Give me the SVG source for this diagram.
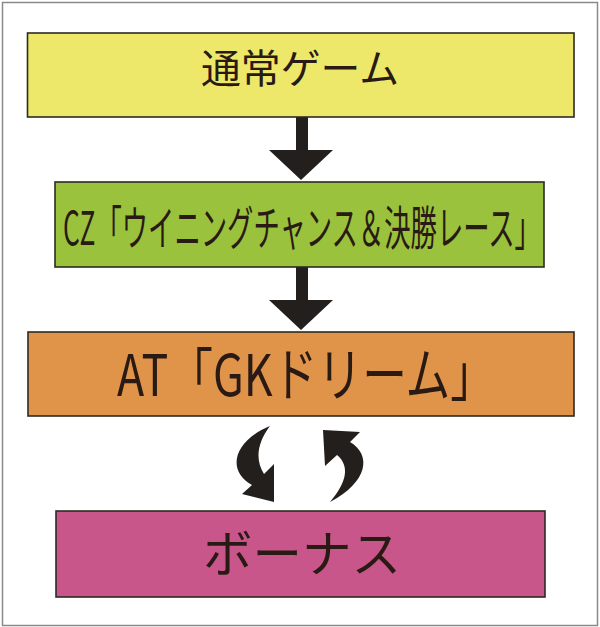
<svg xmlns="http://www.w3.org/2000/svg" width="600" height="627" viewBox="0 0 600 627">
<style>
.box{stroke:#2e2a22;stroke-width:1.6}
.t{font-family:"Noto Sans CJK JP","Noto Sans",sans-serif;fill:#2a1a14;text-anchor:middle}
.arr{fill:#231f1c}
</style>
<rect x="0" y="0" width="600" height="627" fill="#ffffff"/>
<rect x="2.5" y="2.5" width="595" height="623" fill="none" stroke="#8a8a8a" stroke-width="1.5"/>
<g id="connectors">
<path class="arr" d="M296,117 L308,117 L308,150 L333,150 L301,180 L269,150 L296,150 Z"/>
<path class="arr" d="M296,267 L308,267 L308,300 L333,300 L301,330 L269,300 L296,300 Z"/>
<path class="arr" d="M274,502 L242,494 L252,485 C225,470 235,440 270,426 C257,443 255,460 264,474 L274,464 Z"/>
<path class="arr" d="M323,430 L360,432 L350,442 C372,455 368,482 330,502 C347,482 350,466 337,455 L325,466 Z"/>
</g>
<g id="node-normal">
<rect class="box" x="27.5" y="33" width="546.5" height="84" fill="#ede86a"/>
<text class="t" x="300" y="83" font-size="40" textLength="198" lengthAdjust="spacingAndGlyphs">通常ゲーム</text>
</g>
<g id="node-cz">
<rect class="box" x="55" y="182" width="489" height="85" fill="#9ac23c"/>
<text class="t" transform="translate(302,245) scale(0.59,1)" x="0" y="0" font-size="47" textLength="810" lengthAdjust="spacingAndGlyphs">CZ「ウイニングチャンス＆決勝レース」</text>
</g>
<g id="node-at">
<rect class="box" x="28" y="332" width="546" height="84" fill="#e0944a"/>
<text class="t" transform="translate(306,396) scale(0.765,1)" x="0" y="0" font-size="58" textLength="494" lengthAdjust="spacingAndGlyphs">AT「GKドリーム」</text>
</g>
<g id="node-bonus">
<rect class="box" x="56" y="511" width="489" height="86" fill="#c8568a"/>
<text class="t" x="302" y="572" font-size="50" textLength="198" lengthAdjust="spacingAndGlyphs">ボーナス</text>
</g>
</svg>
